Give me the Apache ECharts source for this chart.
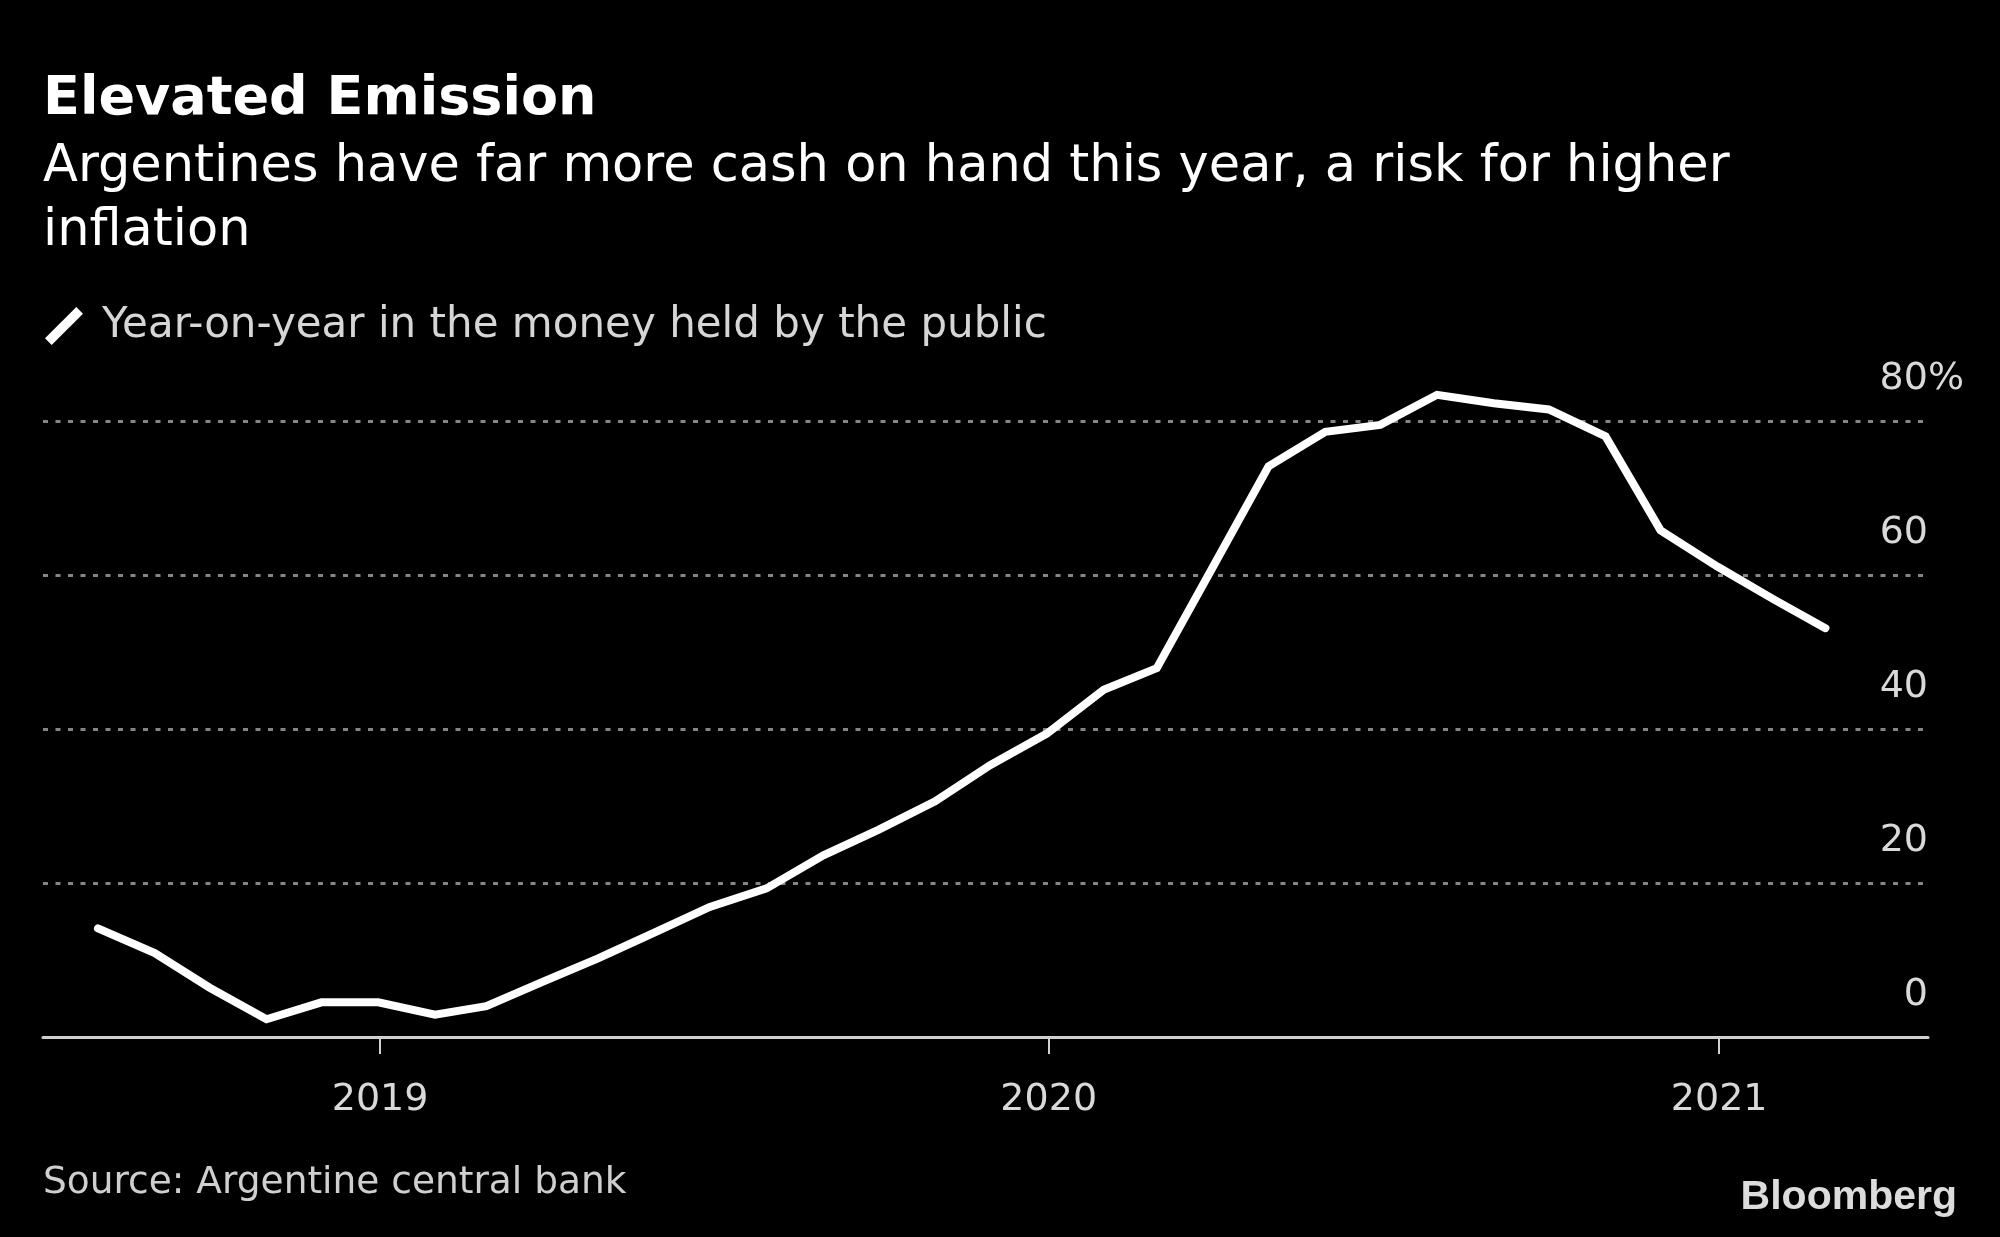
<!DOCTYPE html>
<html>
<head>
<meta charset="utf-8">
<script src="https://cdn.jsdelivr.net/npm/echarts@6/dist/echarts.min.js"></script>
<style>
html,body{margin:0;padding:0;background:#000;}
#chart{width:2000px;height:1237px;}
</style>
</head>
<body>
<div id="chart"></div>
<script>
// ---- data ----
const dates = [
  '2018-07-31','2018-08-31','2018-09-30','2018-10-31','2018-11-30','2018-12-31',
  '2019-01-31','2019-02-28','2019-03-31','2019-04-30','2019-05-31','2019-06-30',
  '2019-07-31','2019-08-31','2019-09-30','2019-10-31','2019-11-30','2019-12-31',
  '2020-01-31','2020-02-29','2020-03-31','2020-04-30','2020-05-31','2020-06-30',
  '2020-07-31','2020-08-31','2020-09-30','2020-10-31','2020-11-30','2020-12-31',
  '2021-01-31','2021-02-28'
];
const moneyYoY = [
  14.1, 10.9, 6.4, 2.3, 4.5, 4.5,
  2.9, 4.0, 7.2, 10.2, 13.6, 16.9,
  19.3, 23.6, 26.9, 30.6, 35.3, 39.4,
  45.1, 47.9, 61.2, 74.1, 78.6, 79.5,
  83.4, 82.3, 81.5, 78.0, 65.8, 61.1,
  56.8, 53.1
];
const yearTickDates = ['2019-01-01','2020-01-01','2021-01-01'];
const yearTickLabels = ['2019','2020','2021'];
const yTicks = [0, 20, 40, 60, 80];

const seriesName = 'Year-on-year in the money held by the public';
const titleText = 'Elevated Emission';
const subtitleText = 'Argentines have far more cash on hand this year, a risk for higher\ninflation';
const sourceText = 'Source: Argentine central bank';

// ---- chart ----
const FONT = "'DejaVu Sans', 'Noto Sans', sans-serif";
const toTs = d => Date.UTC(+d.slice(0,4), +d.slice(5,7) - 1, +d.slice(8,10));
const yearTs = yearTickDates.map(toTs);
const lineData = dates.map((d, i) => [toTs(d), moneyYoY[i]]);
const PCT_W = 36; // width reserved for the hanging "%"

const chart = echarts.init(document.getElementById('chart'), null, {renderer: 'canvas'});
chart.setOption({
  backgroundColor: '#000',
  animation: false,
  title: [
    {text: titleText, left: 43, top: 73, padding: 0,
     textStyle: {color: '#fff', fontSize: 54, fontWeight: 'bold', fontFamily: FONT, lineHeight: 54}},
    {text: subtitleText, left: 43, top: 136, padding: 0,
     textStyle: {color: '#fff', fontSize: 51, fontWeight: 'normal', fontFamily: FONT, lineHeight: 64}},
    {text: sourceText, left: 43, top: 1164, padding: 0,
     textStyle: {color: '#cfcfcf', fontSize: 37.5, fontWeight: 'normal', fontFamily: FONT, lineHeight: 38}},
    {text: 'Bloomberg', right: 43, top: 1177, padding: 0,
     textStyle: {color: '#dcdcdc', fontSize: 41, fontWeight: 'bold', fontFamily: "'Liberation Sans', Arial, sans-serif", lineHeight: 41}}
  ],
  legend: {
    left: 45, top: 305, padding: 0,
    itemWidth: 38, itemHeight: 38,
    selectedMode: false,
    data: [{name: seriesName, icon: 'path://M0.8,30.8 L30.8,0.8 L37.2,7.2 L7.2,37.2 Z'}],
    itemStyle: {color: '#fff', borderWidth: 0},
    textStyle: {color: '#d6d6d6', fontSize: 42, fontFamily: FONT, lineHeight: 42, padding: [0, 0, 0, 14]}
  },
  grid: {left: 43, right: 72, top: 344, bottom: 200, containLabel: false},
  xAxis: {
    type: 'value',
    min: toTs('2018-07-01'),
    max: toTs('2021-04-25'),
    axisLine: {show: true, onZero: false, lineStyle: {color: '#d0d0d0', width: 3}},
    axisTick: {show: true, customValues: yearTs, length: 17, lineStyle: {color: '#d0d0d0', width: 2}},
    axisLabel: {
      show: true, customValues: yearTs, margin: 44,
      color: '#d9d9d9', fontSize: 38, fontFamily: FONT, lineHeight: 38,
      formatter: function (v) {
        const i = yearTs.indexOf(v);
        return i >= 0 ? yearTickLabels[i] : '';
      }
    },
    splitLine: {show: false}
  },
  yAxis: {
    type: 'value', position: 'right',
    min: 0, max: 90, interval: 20,
    axisLine: {show: false},
    axisTick: {show: false},
    splitLine: {show: true, showMinLine: false, showMaxLine: false,
      lineStyle: {color: '#858585', width: 3, type: [5, 7.5]}},
    axisLabel: {
      inside: true, margin: -PCT_W, showMaxLabel: false,
      verticalAlign: 'bottom', padding: [0, 0, 23, 0],
      color: '#d9d9d9', fontSize: 38, fontFamily: FONT, lineHeight: 38,
      formatter: function (v) {
        if (yTicks.indexOf(v) < 0) return '';
        return v === yTicks[yTicks.length - 1] ? '{n|' + v + '}{p|%}' : '{m|' + v + '}';
      },
      rich: {
        n: {color: '#d9d9d9', fontSize: 38, fontFamily: FONT, lineHeight: 38},
        m: {color: '#d9d9d9', fontSize: 38, fontFamily: FONT, lineHeight: 38, padding: [0, PCT_W, 0, 0]},
        p: {color: '#d9d9d9', fontSize: 38, fontFamily: FONT, lineHeight: 38}
      }
    }
  },
  series: [{
    name: seriesName, type: 'line', data: lineData,
    showSymbol: false, symbol: 'none',
    color: '#fff',
    lineStyle: {color: '#fff', width: 8, cap: 'round', join: 'miter'},
    emphasis: {disabled: true},
    silent: true, clip: false
  }]
});
</script>
</body>
</html>
